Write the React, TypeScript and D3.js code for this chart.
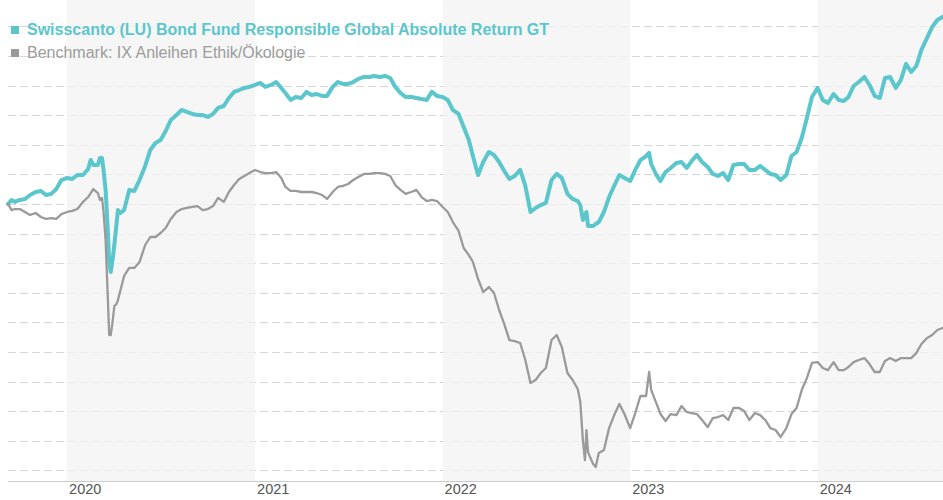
import * as d3 from "d3";

const C = {
  fund: "#5cc6cd",
  bench: "#9a9a9a",
  benchText: "#9c9c9c",
  grid: "#d6d6d6",
  band: "#f4f4f4",
  axis: "#cccccc",
  label: "#555555",
};

const W = 943, H = 500;
const PLOT = { left: 8, right: 943, top: 0, bottom: 482 };
const FONT = "'Liberation Sans', Arial, Helvetica, sans-serif";

const LEGEND = [
  "Swisscanto (LU) Bond Fund Responsible Global Absolute Return GT",
  "Benchmark: IX Anleihen Ethik/Ökologie",
];

const YEARS = ["2020", "2021", "2022", "2023", "2024"];
const SHADED_YEARS = ["2020", "2022", "2024"];

// cumulative performance in %
const DATES = [
  "2019-09-08", "2019-09-15", "2019-09-21",
  "2019-10-01", "2019-10-11", "2019-10-21",
  "2019-11-01", "2019-11-11", "2019-11-21",
  "2019-12-01", "2019-12-11", "2019-12-21",
  "2020-01-01", "2020-01-11", "2020-01-21",
  "2020-02-01", "2020-02-11", "2020-02-16", "2020-02-21",
  "2020-03-01", "2020-03-05", "2020-03-09", "2020-03-12", "2020-03-16", "2020-03-19", "2020-03-23", "2020-03-26", "2020-03-30",
  "2020-04-02", "2020-04-06", "2020-04-09", "2020-04-14", "2020-04-21",
  "2020-05-01", "2020-05-11", "2020-05-21",
  "2020-06-01", "2020-06-11", "2020-06-21",
  "2020-07-01", "2020-07-11", "2020-07-21",
  "2020-08-01", "2020-08-11", "2020-08-21",
  "2020-09-01", "2020-09-11", "2020-09-21",
  "2020-10-01", "2020-10-11", "2020-10-21",
  "2020-11-01", "2020-11-11", "2020-11-21",
  "2020-12-01", "2020-12-11", "2020-12-21",
  "2021-01-01", "2021-01-11", "2021-01-21",
  "2021-02-01", "2021-02-11", "2021-02-21",
  "2021-03-01", "2021-03-11", "2021-03-21",
  "2021-04-01", "2021-04-11", "2021-04-21",
  "2021-05-01", "2021-05-11", "2021-05-21",
  "2021-06-01", "2021-06-11", "2021-06-21",
  "2021-07-01", "2021-07-11", "2021-07-21",
  "2021-08-01", "2021-08-11", "2021-08-21",
  "2021-09-01", "2021-09-11", "2021-09-21",
  "2021-10-01", "2021-10-11", "2021-10-21",
  "2021-11-01", "2021-11-11", "2021-11-21",
  "2021-12-01", "2021-12-11", "2021-12-21",
  "2022-01-01", "2022-01-11", "2022-01-21",
  "2022-02-01", "2022-02-11", "2022-02-21",
  "2022-03-01", "2022-03-11", "2022-03-21",
  "2022-04-01", "2022-04-11", "2022-04-21",
  "2022-05-01", "2022-05-11", "2022-05-21",
  "2022-06-01", "2022-06-11", "2022-06-21",
  "2022-07-01", "2022-07-11", "2022-07-21",
  "2022-08-01", "2022-08-11", "2022-08-21",
  "2022-09-01", "2022-09-11", "2022-09-21", "2022-09-26",
  "2022-10-01", "2022-10-05", "2022-10-08", "2022-10-11", "2022-10-21", "2022-10-26",
  "2022-11-01", "2022-11-11", "2022-11-21",
  "2022-12-01", "2022-12-11", "2022-12-21",
  "2023-01-01", "2023-01-11", "2023-01-21",
  "2023-02-01", "2023-02-07", "2023-02-11", "2023-02-21",
  "2023-03-01", "2023-03-11", "2023-03-21",
  "2023-04-01", "2023-04-11", "2023-04-21",
  "2023-05-01", "2023-05-11", "2023-05-21",
  "2023-06-01", "2023-06-11", "2023-06-21",
  "2023-07-01", "2023-07-11", "2023-07-21",
  "2023-08-01", "2023-08-11", "2023-08-21",
  "2023-09-01", "2023-09-11", "2023-09-21",
  "2023-10-01", "2023-10-11", "2023-10-21",
  "2023-11-01", "2023-11-11", "2023-11-21",
  "2023-12-01", "2023-12-11", "2023-12-21",
  "2024-01-01", "2024-01-11", "2024-01-21",
  "2024-02-01", "2024-02-11", "2024-02-21",
  "2024-03-01", "2024-03-11", "2024-03-21",
  "2024-04-01", "2024-04-11", "2024-04-21",
  "2024-05-01", "2024-05-11", "2024-05-21",
  "2024-06-01", "2024-06-11", "2024-06-21",
  "2024-07-01", "2024-07-11", "2024-07-21",
  "2024-08-01", "2024-08-11", "2024-08-21", "2024-08-31",
];

const FUND = [
  0, 0.27, 0.14,
  0.27, 0.34, 0.61,
  0.81, 0.88, 0.61,
  0.68, 1.01, 1.62,
  1.76, 1.69, 1.96,
  1.96, 2.36, 2.97, 2.64,
  2.64, 3.11, 3.11, 2.3, 0.95, -0.95, -3.92, -4.59, -3.65,
  -2.77, -1.42, -0.41, -0.61, -0.41,
  0.95, 0.88, 1.62,
  2.57, 3.65, 4.12,
  4.32, 4.93, 5.68,
  6.01, 6.35, 6.22,
  6.08, 6.01, 6.01,
  5.88, 6.08, 6.49,
  6.62, 7.16, 7.57,
  7.7, 7.84, 7.91,
  8.04, 8.18, 7.91,
  8.04, 8.24, 7.84,
  7.5, 7.03, 7.23,
  7.16, 7.57, 7.36,
  7.43, 7.3, 7.3,
  7.91, 8.24, 8.11,
  8.11, 8.24, 8.45,
  8.58, 8.58, 8.65,
  8.58, 8.65, 8.51,
  7.91, 7.5, 7.23,
  7.23, 7.16, 7.09,
  7.03, 7.57, 7.3,
  7.23, 7.03, 6.35,
  6.08, 5.2, 4.32,
  3.24, 1.96, 2.84,
  3.51, 3.31, 2.84,
  2.23, 1.69, 1.89,
  2.3, 1.22, -0.54,
  -0.27, -0.07, 0.07,
  1.62, 2.03, 1.76,
  0.68, 0.34, 0.2, -0.07,
  -1.08, -0.74, -0.54, -1.49, -1.49, -1.35,
  -1.22, -0.54, 0.47,
  1.22, 1.96, 1.76,
  1.55, 2.3, 2.97,
  3.24, 3.45, 2.7, 1.96,
  1.55, 2.16, 2.43,
  2.77, 2.84, 2.43,
  2.91, 3.31, 2.84,
  2.5, 2.03, 1.89,
  2.09, 1.62, 2.64,
  2.7, 2.7, 2.3,
  2.3, 2.57, 2.3,
  2.03, 1.96, 1.62,
  1.96, 3.24, 3.51,
  4.46, 5.81, 7.23,
  7.84, 7.03, 6.82,
  7.43, 7.03, 6.96,
  7.23, 7.97, 8.24,
  8.58, 8.04, 7.3,
  7.16, 8.51, 8.58,
  7.84, 8.38, 9.46,
  8.92, 9.32, 10.41,
  11.22, 11.96, 12.43, 12.64,
];

const BENCH = [
  0, -0.41, -0.34,
  -0.34, -0.54, -0.74,
  -0.61, -0.88, -1.01,
  -0.95, -1.01, -0.68,
  -0.54, -0.47, -0.34,
  0.14, 0.47, 0.74, 1.01,
  0.74, 0.27, 0.41, -0.54, -2.43, -5.14, -8.85, -8.85, -7.84,
  -6.89, -6.76, -6.49, -5.81, -4.86,
  -4.32, -4.32, -3.92,
  -2.77, -2.23, -2.23,
  -1.96, -1.62, -1.01,
  -0.54, -0.34, -0.27,
  -0.2, -0.14, -0.41,
  -0.34, -0.14, 0.41,
  0.14, 0.81, 1.28,
  1.69, 1.89, 2.09,
  2.3, 2.16, 2.09,
  2.09, 2.16, 1.76,
  1.15, 0.88, 0.88,
  0.81, 0.81, 0.81,
  0.74, 0.61, 0.34,
  0.81, 1.15, 1.22,
  1.35, 1.62, 1.82,
  2.03, 2.03, 2.09,
  2.09, 2.03, 1.89,
  1.28, 0.95, 0.68,
  0.81, 0.95, 0.47,
  0.2, 0.27, 0.2,
  -0.2, -0.54, -1.22,
  -1.82, -2.97, -3.45,
  -3.92, -5.07, -5.95,
  -5.61, -6.01, -7.16,
  -8.11, -9.19, -9.26,
  -9.39, -10.54, -12.09,
  -11.89, -11.42, -11.08,
  -9.19, -8.85, -9.66,
  -11.42, -11.89, -12.5, -13.38,
  -15.95, -17.3, -15.27, -16.76, -17.57, -17.77,
  -16.82, -16.62, -15.14,
  -14.26, -13.51, -14.19,
  -15.14, -14.12, -12.97,
  -12.97, -11.35, -12.57, -13.45,
  -14.19, -14.66, -14.19,
  -14.26, -13.65, -14.05,
  -14.12, -14.19, -14.59,
  -15.07, -14.46, -14.39,
  -14.26, -14.59, -13.78,
  -13.78, -13.99, -14.59,
  -14.12, -14.26, -14.59,
  -15.14, -15.27, -15.74,
  -15.14, -14.19, -13.78,
  -12.57, -11.76, -10.74,
  -10.68, -11.08, -11.22,
  -10.68, -11.22, -11.22,
  -11.01, -10.68, -10.54,
  -10.41, -10.81, -11.35,
  -11.35, -10.61, -10.41,
  -10.61, -10.41, -10.41,
  -10.41, -10.07, -9.46,
  -9.05, -8.85, -8.51, -8.38,
];

const parse = d3.utcParse("%Y-%m-%d");

export default function App() {
  const dates = DATES.map(d => parse(d) as Date);

  const x = d3.scaleUtc()
    .domain([parse("2019-09-08") as Date, parse("2024-09-01") as Date])
    .range([PLOT.left, PLOT.right]);
  const y = d3.scaleLinear().domain([-18.78, 13.78]).range([PLOT.bottom, PLOT.top]);

  const gridTicks = d3.range(-18, 13, 2);

  const lineGen = d3.line<number>()
    .x((_, i) => x(dates[i]))
    .y(v => y(v));

  const yearX = (yr: string) => x(parse(`${yr}-01-01`) as Date);

  return (
    <div style={{ position: "absolute", left: 0, top: 0, width: W, height: H, background: "#fff" }}>
      <svg width={W} height={H} style={{ display: "block", fontFamily: FONT }}>
        {/* grid */}
        <g>
          {gridTicks.map(t => {
            const yy = Math.round(y(t)) + 0.5;
            return (
              <line key={t} x1={PLOT.left} x2={PLOT.right} y1={yy} y2={yy}
                stroke={C.grid} strokeWidth={1} strokeDasharray="8,4" />
            );
          })}
        </g>

        {/* alternating year bands, laid over the grid */}
        <g>
          {SHADED_YEARS.map(yr => {
            const x0 = yearX(yr);
            const x1 = Math.min(PLOT.right, yearX(String(+yr + 1)));
            return (
              <rect key={yr} x={x0} y={PLOT.top} width={x1 - x0} height={PLOT.bottom - PLOT.top}
                fill={C.band} fillOpacity={0.78} />
            );
          })}
        </g>

        {/* x axis */}
        <line x1={PLOT.left} x2={PLOT.right} y1={PLOT.bottom - 0.5} y2={PLOT.bottom - 0.5}
          stroke={C.axis} strokeWidth={1} />
        {YEARS.map(yr => (
          <text key={yr} x={yearX(yr) + 2} y={494} fontSize={14.5} fill={C.label}>{yr}</text>
        ))}

        {/* series */}
        <path d={lineGen(FUND) ?? ""} fill="none" stroke={C.fund} strokeWidth={4}
          strokeLinejoin="round" strokeLinecap="round" />
        <path d={lineGen(BENCH) ?? ""} fill="none" stroke={C.bench} strokeWidth={2.3}
          strokeLinejoin="round" strokeLinecap="round" />

        {/* legend */}
        <g>
          <rect x={11} y={26} width={8} height={8} fill={C.fund} />
          <text x={27} y={34.5} fontSize={16} fontWeight="bold" fill={C.fund}>{LEGEND[0]}</text>
          <rect x={11} y={49} width={8} height={8} fill={C.bench} />
          <text x={27} y={58} fontSize={16} fill={C.benchText}>{LEGEND[1]}</text>
        </g>
      </svg>
    </div>
  );
}
